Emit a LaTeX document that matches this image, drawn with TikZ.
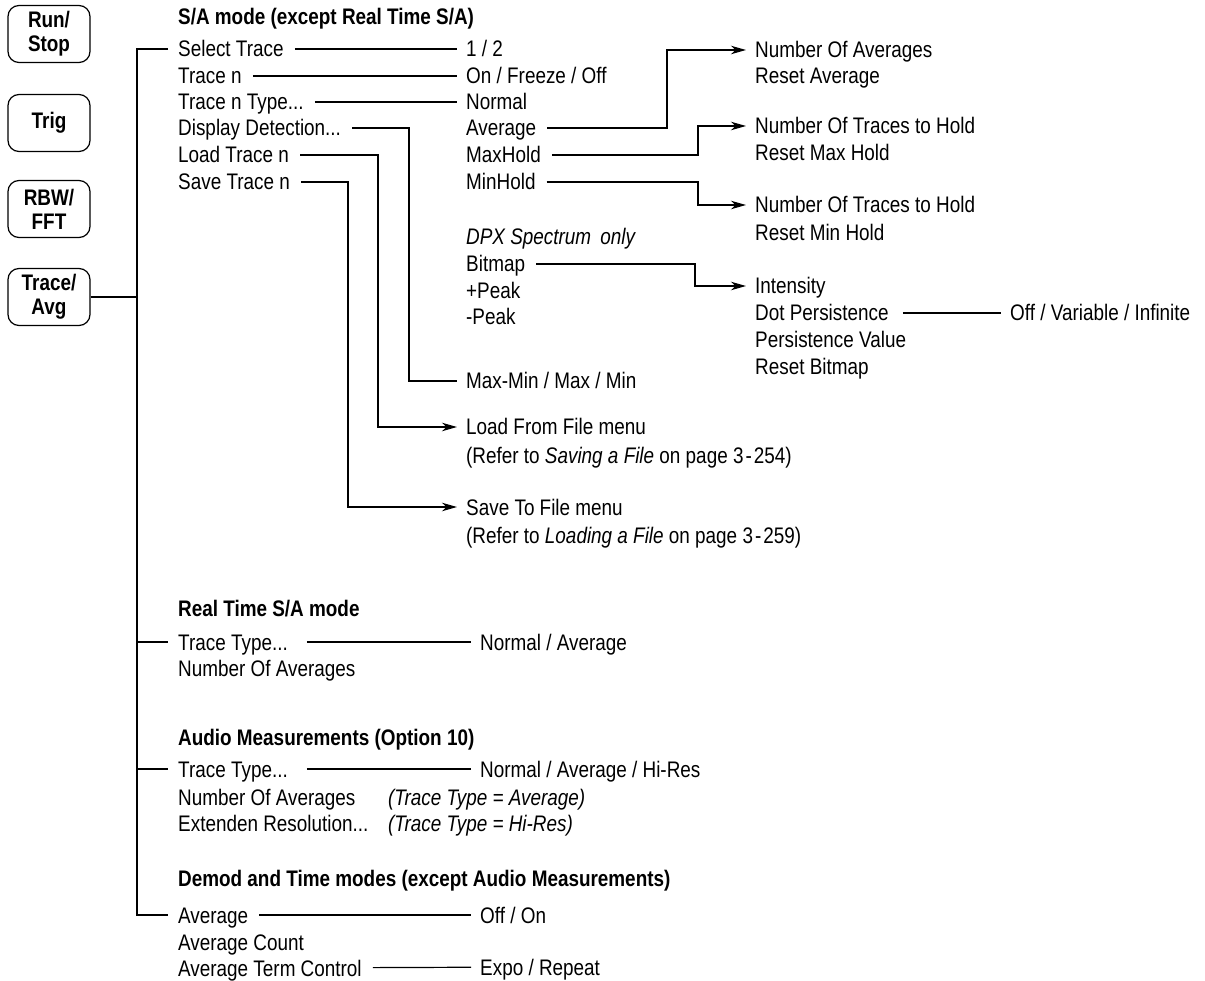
\documentclass[tikz,border=0pt]{standalone}
\usepackage{fontspec}
\setmainfont{Liberation Sans}[FakeStretch=0.84]
\usetikzlibrary{arrows.meta,positioning,calc}
\tikzset{key/.style={draw,rounded corners=11pt,line width=1.2pt,minimum width=82pt,
  minimum height=57pt,align=center,inner sep=0pt,font=\bfseries\fontsize{22.5}{24}\selectfont},
  item/.style={anchor=west,inner sep=0pt,text height=16pt,text depth=0pt,
  font=\fontsize{22.5}{26}\selectfont},
  head/.style={item,font=\bfseries\fontsize{22.5}{26}\selectfont},
  note/.style={item,font=\itshape\fontsize{22.5}{26}\selectfont},
  wire/.style={line width=1.2pt},
  link/.style={wire,shorten <=11pt,shorten >=9pt},
  arrow/.style={link,-{Stealth[length=15pt,width=8.5pt,inset=4.5pt]}}}

\begin{document}
\begin{tikzpicture}[x=1pt,y=-1pt]
\useasboundingbox (0,0) rectangle (1205,981);
% front panel keys
\node[key] (run) at (49,34) {Run/\\Stop};
\node[key] (trig) at (49,123) {Trig};
\node[key] (rbw) at (49,209) {RBW/\\FFT};
\node[key] (trc) at (49,297) {Trace/\\Avg};
\coordinate (trunk) at (137,0);
% S/A mode
\node[head] (saHead) at (178,17) {S/A mode (except Real Time S/A)};
\node[item] (sel) at (178,49) {Select Trace};
\node[item] (tn) at (178,76) {Trace n};
\node[item] (tnType) at (178,102) {Trace n Type...};
\node[item] (disp) at (178,128) {Display Detection...};
\node[item] (load) at (178,155) {Load Trace n};
\node[item] (save) at (178,182) {Save Trace n};
\node[item] (selVal) at (466,49) {1 / 2};
\node[item] (tnVal) at (466,76) {On / Freeze / Off};
\node[item] (normal) at (466,102) {Normal};
\node[item] (avg) at (466,128) {Average};
\node[item] (maxH) at (466,155) {MaxHold};
\node[item] (minH) at (466,182) {MinHold};
\node[note] (dpx) at (466,237) {DPX Spectrum\hspace{4pt} only};
\node[item] (bitmap) at (466,264) {Bitmap};
\node[item] (posPk) at (466,291) {+Peak};
\node[item] (negPk) at (466,317) {-Peak};
\node[item] (detVal) at (466,381) {Max-Min / Max / Min};
\node[item] (loadMenu) at (466,427) {Load From File menu};
\node[item] (loadRef) at (466,455) {(Refer to \textit{Saving a File} on page 3\kern2pt-\kern2pt254)};
\node[item] (saveMenu) at (466,507) {Save To File menu};
\node[item] (saveRef) at (466,535) {(Refer to \textit{Loading a File} on page 3\kern2pt-\kern2pt259)};
\node[item] (avgNum) at (755,50) {Number Of Averages};
\node[item] (avgRst) at (755,76) {Reset Average};
\node[item] (maxNum) at (755,126) {Number Of Traces to Hold};
\node[item] (maxRst) at (755,153) {Reset Max Hold};
\node[item] (minNum) at (755,205) {Number Of Traces to Hold};
\node[item] (minRst) at (755,233) {Reset Min Hold};
\node[item] (inten) at (755,286) {Intensity};
\node[item] (dotP) at (755,313) {Dot Persistence};
\node[item] (persVal) at (755,340) {Persistence Value};
\node[item] (bitRst) at (755,367) {Reset Bitmap};
\node[item] (dotMode) at (1010,313) {Off / Variable / Infinite};
% Real Time S/A mode
\node[head] (rtHead) at (178,608) {Real Time S/A mode};
\node[item] (rtType) at (178,642) {Trace Type...};
\node[item] (rtNum) at (178,668) {Number Of Averages};
\node[item] (rtMode) at (480,642) {Normal / Average};
% Audio
\node[head] (auHead) at (178,737) {Audio Measurements (Option 10)};
\node[item] (auType) at (178,769) {Trace Type...};
\node[item] (auNum) at (178,797) {Number Of Averages};
\node[item] (auExt) at (178,823) {Extenden Resolution...};
\node[note] (auNumIf) at (388,797) {(Trace Type = Average)};
\node[note] (auExtIf) at (388,823) {(Trace Type = Hi-Res)};
\node[item] (auMode) at (480,769) {Normal / Average / Hi-Res};
% Demod and Time
\node[head] (dmHead) at (178,878) {Demod and Time modes (except Audio Measurements)};
\node[item] (dmAvg) at (178,915) {Average};
\node[item] (dmCount) at (178,942) {Average Count};
\node[item] (dmTerm) at (178,968) {Average Term Control};
\node[item] (dmOnOff) at (480,915) {Off / On};
\node[item] (dmExpo) at (480,967) {Expo / Repeat};
% elbows
\coordinate (kSave) at (348,0);
\coordinate (kLoad) at (378,0);
\coordinate (kDisp) at (409,0);
\coordinate (kAvg) at (667,0);
\coordinate (kBit) at (695,0);
\coordinate (kHold) at (698,0);
% connectors
\draw[wire] (trc.east) -- (trc.east -| trunk);
\draw[wire,shorten <=10pt,shorten >=10pt] (sel.west) -- (sel.west -| trunk) -- (dmAvg.west -| trunk) -- (dmAvg.west);
\draw[wire,shorten >=10pt] (rtType.west -| trunk) -- (rtType.west);
\draw[wire,shorten >=10pt] (auType.west -| trunk) -- (auType.west);
\draw[link] (sel) -- (selVal);
\draw[link] (tn) -- (tnVal);
\draw[link] (tnType) -- (normal);
\draw[link] (disp.east) -- (disp.east -| kDisp) |- (detVal.west);
\draw[arrow] (load.east) -- (load.east -| kLoad) |- (loadMenu.west);
\draw[arrow] (save.east) -- (save.east -| kSave) |- (saveMenu.west);
\draw[arrow] (avg.east) -- (avg.east -| kAvg) |- (avgNum.west);
\draw[arrow] (maxH.east) -- (maxH.east -| kHold) |- (maxNum.west);
\draw[arrow] (minH.east) -- (minH.east -| kHold) |- (minNum.west);
\draw[arrow] (bitmap.east) -- (bitmap.east -| kBit) |- (inten.west);
\draw[link,shorten <=14pt] (dotP) -- (dotMode);
\draw[link,shorten <=19pt] (rtType) -- (rtMode);
\draw[link,shorten <=19pt] (auType) -- (auMode);
\draw[link] (dmAvg) -- (dmOnOff);
\draw[link] (dmTerm) -- (dmExpo);
\end{tikzpicture}
\end{document}
